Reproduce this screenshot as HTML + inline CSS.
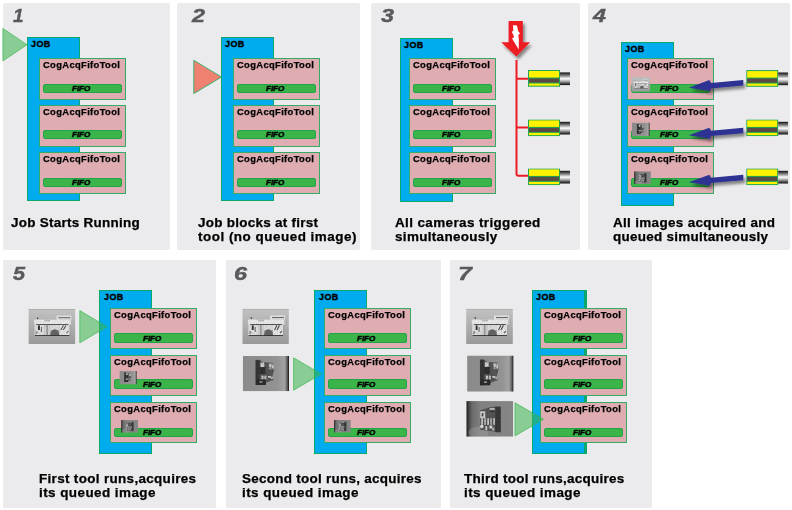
<!DOCTYPE html><html><head><meta charset="utf-8"><style>
*{margin:0;padding:0;box-sizing:border-box}
html,body{width:792px;height:510px;background:#fff;overflow:hidden;position:relative;font-family:"Liberation Sans",sans-serif}
.p{position:absolute;background:#ebebed;border-radius:2px}
.n{position:absolute;font:italic bold 18px/18px "Liberation Sans",sans-serif;color:#59595b;-webkit-text-stroke:0.4px #59595b;transform-origin:0 0;transform:scaleX(1.3)}
.j{position:absolute;background:#00abee;border:1px solid #0ba86c;height:164px}
.j7{border-right:3px solid #0ba86c}
.jl{position:absolute;left:3px;top:2px;font:bold 9px/9px "Liberation Sans",sans-serif;color:#000;-webkit-text-stroke:0.35px #000;letter-spacing:0.4px}
.t{position:absolute;background:#dfadb1;border:1px solid #33ac66;width:87px;height:42px}
.tl{position:absolute;left:3px;top:2px;font:bold 9px/9px "Liberation Sans",sans-serif;color:#000;-webkit-text-stroke:0.25px #000;letter-spacing:0.35px;transform:scaleX(1.04);transform-origin:0 0;white-space:nowrap}
.f{position:absolute;left:3px;top:25px;width:79px;height:9px;background:#3bb54a;border:1px solid #22a548;border-radius:2px}
.fl{position:absolute;left:28px;top:0px;font:italic bold 8px/7px "Liberation Sans",sans-serif;color:#000;-webkit-text-stroke:0.45px #000}
.c{position:absolute;font:bold 12px/14px "Liberation Sans",sans-serif;color:#000;-webkit-text-stroke:0.25px #000;transform:scaleX(1.12);transform-origin:0 0;white-space:nowrap}
svg.ov{position:absolute;left:0;top:0}
</style></head><body>
<div class="p" style="left:3px;top:3px;width:167px;height:247px"></div>
<div class="p" style="left:177px;top:3px;width:183px;height:247px"></div>
<div class="p" style="left:371px;top:3px;width:209px;height:247px"></div>
<div class="p" style="left:588px;top:3px;width:202px;height:247px"></div>
<div class="p" style="left:3px;top:260px;width:213px;height:248px"></div>
<div class="p" style="left:226px;top:260px;width:215px;height:248px"></div>
<div class="p" style="left:450px;top:260px;width:202px;height:248px"></div>
<div class="n" style="left:12.5px;top:7px;transform:scaleX(1.05)">1</div>
<div class="n" style="left:192px;top:7px;transform:scaleX(1.3)">2</div>
<div class="n" style="left:380.5px;top:7px;transform:scaleX(1.3)">3</div>
<div class="n" style="left:593px;top:7px;transform:scaleX(1.3)">4</div>
<div class="n" style="left:12.6px;top:265px;transform:scaleX(1.2)">5</div>
<div class="n" style="left:234px;top:265px;transform:scaleX(1.3)">6</div>
<div class="n" style="left:457.5px;top:265px;transform:scaleX(1.38)">7</div>
<div class="j" style="left:27px;top:37px;width:53px"><div class="jl" style="left:3px">JOB</div></div>
<div class="t" style="left:39px;top:58px;height:42px"><div class="tl">CogAcqFifoTool</div><div class="f" style="top:25px;height:9px"><div class="fl" style="top:0.0px">FIFO</div></div></div>
<div class="t" style="left:39px;top:105px;height:42px"><div class="tl">CogAcqFifoTool</div><div class="f" style="top:24px;height:9px"><div class="fl" style="top:0.0px">FIFO</div></div></div>
<div class="t" style="left:39px;top:152px;height:42px"><div class="tl">CogAcqFifoTool</div><div class="f" style="top:25px;height:9px"><div class="fl" style="top:0.0px">FIFO</div></div></div>
<div class="j" style="left:221px;top:37px;width:53px"><div class="jl" style="left:3px">JOB</div></div>
<div class="t" style="left:233px;top:58px;height:42px"><div class="tl">CogAcqFifoTool</div><div class="f" style="top:25px;height:9px"><div class="fl" style="top:0.0px">FIFO</div></div></div>
<div class="t" style="left:233px;top:105px;height:42px"><div class="tl">CogAcqFifoTool</div><div class="f" style="top:24px;height:9px"><div class="fl" style="top:0.0px">FIFO</div></div></div>
<div class="t" style="left:233px;top:152px;height:42px"><div class="tl">CogAcqFifoTool</div><div class="f" style="top:25px;height:9px"><div class="fl" style="top:0.0px">FIFO</div></div></div>
<div class="j" style="left:400px;top:38px;width:53px"><div class="jl" style="left:3px">JOB</div></div>
<div class="t" style="left:409px;top:58px;height:42px"><div class="tl">CogAcqFifoTool</div><div class="f" style="top:25px;height:9px"><div class="fl" style="top:0.0px">FIFO</div></div></div>
<div class="t" style="left:409px;top:105px;height:42px"><div class="tl">CogAcqFifoTool</div><div class="f" style="top:24px;height:9px"><div class="fl" style="top:0.0px">FIFO</div></div></div>
<div class="t" style="left:409px;top:152px;height:42px"><div class="tl">CogAcqFifoTool</div><div class="f" style="top:25px;height:9px"><div class="fl" style="top:0.0px">FIFO</div></div></div>
<div class="j" style="left:621px;top:42px;width:53px"><div class="jl" style="left:3px">JOB</div></div>
<div class="t" style="left:627px;top:58px;height:42px"><div class="tl">CogAcqFifoTool</div><div class="f" style="top:25px;height:9px"><div class="fl" style="top:0.0px">FIFO</div></div></div>
<div class="t" style="left:627px;top:105px;height:42px"><div class="tl">CogAcqFifoTool</div><div class="f" style="top:24px;height:9px"><div class="fl" style="top:0.0px">FIFO</div></div></div>
<div class="t" style="left:627px;top:152px;height:42px"><div class="tl">CogAcqFifoTool</div><div class="f" style="top:25px;height:9px"><div class="fl" style="top:0.0px">FIFO</div></div></div>
<div class="j" style="left:99px;top:290px;width:53px"><div class="jl" style="left:4px">JOB</div></div>
<div class="t" style="left:110px;top:308px;height:41px"><div class="tl">CogAcqFifoTool</div><div class="f" style="top:24px;height:10px"><div class="fl" style="top:0.5px">FIFO</div></div></div>
<div class="t" style="left:110px;top:355px;height:41px"><div class="tl">CogAcqFifoTool</div><div class="f" style="top:23px;height:10px"><div class="fl" style="top:0.5px">FIFO</div></div></div>
<div class="t" style="left:110px;top:402px;height:41px"><div class="tl">CogAcqFifoTool</div><div class="f" style="top:25px;height:9px"><div class="fl" style="top:0.0px">FIFO</div></div></div>
<div class="j" style="left:314px;top:290px;width:53px"><div class="jl" style="left:4px">JOB</div></div>
<div class="t" style="left:324px;top:308px;height:41px"><div class="tl">CogAcqFifoTool</div><div class="f" style="top:24px;height:10px"><div class="fl" style="top:0.5px">FIFO</div></div></div>
<div class="t" style="left:324px;top:355px;height:41px"><div class="tl">CogAcqFifoTool</div><div class="f" style="top:23px;height:10px"><div class="fl" style="top:0.5px">FIFO</div></div></div>
<div class="t" style="left:324px;top:402px;height:41px"><div class="tl">CogAcqFifoTool</div><div class="f" style="top:25px;height:9px"><div class="fl" style="top:0.0px">FIFO</div></div></div>
<div class="j j7" style="left:532px;top:290px;width:55px"><div class="jl" style="left:3px">JOB</div></div>
<div class="t" style="left:540px;top:308px;height:41px"><div class="tl">CogAcqFifoTool</div><div class="f" style="top:24px;height:10px"><div class="fl" style="top:0.5px">FIFO</div></div></div>
<div class="t" style="left:540px;top:355px;height:41px"><div class="tl">CogAcqFifoTool</div><div class="f" style="top:23px;height:10px"><div class="fl" style="top:0.5px">FIFO</div></div></div>
<div class="t" style="left:540px;top:402px;height:41px"><div class="tl">CogAcqFifoTool</div><div class="f" style="top:25px;height:9px"><div class="fl" style="top:0.0px">FIFO</div></div></div>
<div class="c" style="left:11.0px;top:216px;letter-spacing:0.25px">Job Starts Running</div>
<div class="c" style="left:198.3px;top:216px;letter-spacing:0.25px">Job blocks at first</div>
<div class="c" style="left:198.3px;top:230px;letter-spacing:0.45px">tool (no queued image)</div>
<div class="c" style="left:395.0px;top:216px;letter-spacing:0.35px">All cameras triggered</div>
<div class="c" style="left:395.0px;top:230px;letter-spacing:0.3px">simultaneously</div>
<div class="c" style="left:612.5px;top:216px;letter-spacing:0.3px">All images acquired and</div>
<div class="c" style="left:612.5px;top:230px;letter-spacing:0.25px">queued simultaneously</div>
<div class="c" style="left:38.7px;top:472px;letter-spacing:0.3px">First tool runs,acquires</div>
<div class="c" style="left:38.7px;top:486px;letter-spacing:0.4px">its queued image</div>
<div class="c" style="left:241.9px;top:472px;letter-spacing:0.25px">Second tool runs, acquires</div>
<div class="c" style="left:241.9px;top:486px;letter-spacing:0.4px">its queued image</div>
<div class="c" style="left:464.4px;top:472px;letter-spacing:0.25px">Third tool runs,acquires</div>
<div class="c" style="left:464.4px;top:486px;letter-spacing:0.4px">its queued image</div>
<svg class="ov" width="792" height="510" viewBox="0 0 792 510">
<defs>
<linearGradient id="lens" x1="0" y1="0" x2="0" y2="1">
<stop offset="0" stop-color="#111"/><stop offset="0.12" stop-color="#444"/><stop offset="0.3" stop-color="#999"/>
<stop offset="0.5" stop-color="#fff"/><stop offset="0.7" stop-color="#aaa"/><stop offset="0.88" stop-color="#444"/><stop offset="1" stop-color="#111"/>
</linearGradient>
<linearGradient id="gA" x1="0" y1="0" x2="0" y2="1"><stop offset="0" stop-color="#c2c2c2"/><stop offset="1" stop-color="#999"/></linearGradient>
<linearGradient id="gB" x1="0" y1="0" x2="1" y2="0"><stop offset="0" stop-color="#8a8a8a"/><stop offset="0.75" stop-color="#939393"/><stop offset="0.9" stop-color="#a2a2a2"/><stop offset="0.955" stop-color="#666"/><stop offset="1" stop-color="#111"/></linearGradient>
<linearGradient id="gC" x1="0" y1="0" x2="1" y2="0"><stop offset="0" stop-color="#111"/><stop offset="0.04" stop-color="#3a3a3a"/><stop offset="0.12" stop-color="#6a6a6a"/><stop offset="0.3" stop-color="#808080"/><stop offset="1" stop-color="#868686"/></linearGradient>
<filter id="sh" x="-20%" y="-20%" width="150%" height="160%"><feGaussianBlur in="SourceAlpha" stdDeviation="1.5"/><feOffset dx="2" dy="3" result="b"/><feComponentTransfer><feFuncA type="linear" slope="0.45"/></feComponentTransfer><feMerge><feMergeNode/><feMergeNode in="SourceGraphic"/></feMerge></filter>
<filter id="grain" x="0" y="0" width="100%" height="100%"><feTurbulence type="fractalNoise" baseFrequency="0.9" numOctaves="1" seed="3" result="n"/><feColorMatrix in="n" type="matrix" values="0 0 0 0 0  0 0 0 0 0  0 0 0 0 0  0 0 0 -1.6 1.0" result="m"/><feComposite in="m" in2="SourceGraphic" operator="in"/></filter>
<symbol id="tA" viewBox="0 0 47 35" preserveAspectRatio="none">
<rect width="47" height="35" fill="url(#gA)"/>
<rect x="0" y="0" width="47" height="0.8" fill="#a9a9a9"/>
<rect x="28" y="6.5" width="15" height="4.2" fill="#e8e8e8"/><rect x="30" y="8.3" width="12" height="0.9" fill="#555"/>
<circle cx="9.2" cy="9.2" r="0.8" fill="#333"/>
<rect x="5.7" y="10.7" width="36.7" height="5" fill="#eeeeee"/><rect x="15.7" y="10.4" width="6" height="2" fill="#bbb"/>
<rect x="8" y="15.2" width="32" height="0.9" fill="#3a3a3a"/>
<rect x="6.1" y="16" width="10" height="10.5" fill="#e2e2e2"/>
<rect x="9.6" y="16.4" width="1.9" height="4.6" fill="#333"/><rect x="12.5" y="18" width="1" height="5" fill="#666"/><rect x="7" y="22" width="2" height="3" fill="#999"/>
<rect x="16" y="16" width="6" height="10.5" fill="#d4d4d4"/><rect x="18" y="16" width="1.5" height="10" fill="#999"/>
<rect x="21.8" y="16" width="9.2" height="5" fill="#dedede"/>
<path d="M21.8 26.8 Q22.5 20.3 26.4 20.3 Q30.3 20.3 31 26.8 Z" fill="#666"/>
<rect x="31" y="16" width="10" height="10.5" fill="#e6e6e6"/>
<path d="M32.5 21 L35 16.4 M35 21 L37.5 16.4 M38 24 L40 22" stroke="#444" stroke-width="1" fill="none"/>
<rect x="6.5" y="26" width="34.5" height="0.9" fill="#333"/>
<rect x="5.7" y="10.7" width="36.7" height="16" fill="#000" opacity="0.2" filter="url(#grain)"/><rect x="28" y="6.5" width="15" height="4.2" fill="#000" opacity="0.2" filter="url(#grain)"/>
</symbol>
<symbol id="tB" viewBox="0 0 47 35" preserveAspectRatio="none">
<rect width="47" height="35" fill="url(#gB)"/>
<path d="M13 4 L17 3.8 L20 6 L31 7 L32 13 L30 20 L31 24 L24 26 L23 28.7 L13 28.7 Z" fill="#5a5a5a"/>
<rect x="13" y="4" width="4" height="24.7" fill="#3a3a3a"/>
<rect x="18" y="6.5" width="3.8" height="4.5" fill="#dcdcdc"/>
<rect x="17" y="11" width="6" height="7" fill="#343434"/>
<rect x="26.4" y="7.3" width="5.3" height="6" fill="#9a9a9a"/><rect x="27" y="8" width="1.5" height="3" fill="#eee"/><rect x="30" y="9" width="1.2" height="3" fill="#ddd"/>
<rect x="19" y="19.5" width="2" height="3.8" fill="#ddd"/><rect x="22" y="19.5" width="2" height="3.8" fill="#ccc"/><rect x="25.5" y="20" width="3" height="1.5" fill="#eee"/><rect x="28.5" y="20.5" width="2" height="2.5" fill="#bbb"/>
<rect x="13.4" y="23.3" width="10" height="5.4" fill="#2e2e2e"/><rect x="17" y="25" width="3" height="1.5" fill="#aaa"/>
<clipPath id="cpB"><path d="M13 4 L17 3.8 L20 6 L31 7 L32 13 L30 20 L31 24 L24 26 L23 28.7 L13 28.7 Z"/></clipPath><g clip-path="url(#cpB)"><rect x="13" y="3" width="19" height="26" fill="#fff" opacity="0.4" filter="url(#grain)"/></g>
</symbol>
<symbol id="tC" viewBox="0 0 47 35" preserveAspectRatio="none">
<rect width="47" height="35" fill="url(#gC)"/>
<ellipse cx="12" cy="31" rx="10" ry="6" fill="#a8a8a8" opacity="0.35"/>
<path d="M13.8 9 L24 6 L30 5.4 L34.4 6 L34.4 30.6 L28 30 L20 29 L13.8 28 Z" fill="#5a5a5a"/>
<rect x="29" y="5.4" width="5.4" height="25.2" fill="#3c3c3c"/>
<rect x="23.5" y="7" width="5" height="1.5" fill="#ddd"/><rect x="24" y="9.5" width="4" height="1.2" fill="#333"/>
<rect x="13.8" y="10" width="5.2" height="6.8" fill="#d6d6d6"/><rect x="15.5" y="12" width="1.5" height="3" fill="#444"/>
<rect x="15" y="16.8" width="1.5" height="6.5" fill="#e6e6e6"/><rect x="18" y="16.8" width="1.5" height="6.5" fill="#d0d0d0"/><rect x="21" y="16.8" width="1.5" height="6.5" fill="#e6e6e6"/><rect x="24" y="16.8" width="1.5" height="6.5" fill="#c8c8c8"/><rect x="27" y="16.8" width="1.5" height="6.5" fill="#ddd"/>
<rect x="14" y="23.5" width="3" height="3" fill="#eee"/><rect x="19" y="24.5" width="2" height="4" fill="#ccc"/><rect x="23" y="24" width="3" height="3" fill="#ddd"/><rect x="26" y="26" width="2" height="3" fill="#bbb"/>
<clipPath id="cpC"><path d="M13.8 9 L24 6 L30 5.4 L34.4 6 L34.4 30.6 L28 30 L20 29 L13.8 28 Z"/></clipPath><g clip-path="url(#cpC)"><rect x="13.8" y="5" width="20.6" height="26" fill="#fff" opacity="0.4" filter="url(#grain)"/></g>
</symbol>
<symbol id="cam" viewBox="0 0 42 17" width="42" height="17">
<rect x="0" y="0" width="32" height="16.7" fill="#1ea650"/>
<rect x="1" y="1" width="30" height="6.5" fill="#fff200"/>
<rect x="1" y="8.5" width="30" height="4" fill="#5a4a44"/>
<rect x="1" y="13.5" width="30" height="2.2" fill="#fff200"/>
<rect x="32" y="2.4" width="10" height="12.7" fill="url(#lens)"/>
</symbol>
</defs>
<path d="M2.9 28.4 L27 44.7 L2.9 60.9 Z" fill="#39b54a" fill-opacity="0.55" stroke="#39b54a" stroke-opacity="0.75" stroke-width="0.9"/>
<path d="M193.8 60.3 L221.5 77 L193.8 93.6 Z" fill="#f0806f" stroke="#3cb371" stroke-width="1"/>
<path d="M79.8 310.6 L107 326.8 L79.8 342.8 Z" fill="#39b54a" fill-opacity="0.55" stroke="#39b54a" stroke-opacity="0.75" stroke-width="0.9"/>
<path d="M293.6 357.8 L321.3 374 L293.6 390.2 Z" fill="#39b54a" fill-opacity="0.55" stroke="#39b54a" stroke-opacity="0.75" stroke-width="0.9"/>
<path d="M515 402.8 L543.5 419.3 L515 435.9 Z" fill="#39b54a" fill-opacity="0.55" stroke="#39b54a" stroke-opacity="0.75" stroke-width="0.9"/>
<g filter="url(#sh)"><path d="M508.6 21 H522.8 V42.2 H530 L516.4 56.6 L501.2 42.2 H508.6 Z" fill="#ed1c24"/></g>
<path d="M513.0 25.2 L516.9 25.6 L518.3 31.6 L519.9 32.9 L519.5 34.2 L518.3 34.7 L518.9 39.8 L518.7 49.6 L512.0 38.6 L513.6 37.7 L513.9 36.1 L512.7 33.8 L511.7 31.7 L513.3 30.8 Z" fill="#fff"/>
<path d="M516.5 60 V173.7 Q516.5 175.7 518.5 175.7 H528.5 M516.5 78.7 H528.5 M516.5 127.5 H528.5" fill="none" stroke="#ed1c24" stroke-width="2"/>
<use href="#cam" x="528" y="70" width="42" height="17"/>
<use href="#cam" x="528" y="119.4" width="42" height="17"/>
<use href="#cam" x="528" y="168.4" width="42" height="17"/>
<use href="#cam" x="746.2" y="70.1" width="42" height="17"/>
<use href="#cam" x="746.2" y="119.4" width="42" height="17"/>
<use href="#cam" x="746.2" y="168.4" width="42" height="17"/>
<g filter="url(#sh)" transform="translate(0 0)"><path d="M743.3 80.1 L743.3 85.6 L711 88.4 L710.2 91.1 L688.8 87.7 L709.4 80.1 L711 83.1 Z" fill="#2e3192"/></g>
<g filter="url(#sh)" transform="translate(0 47.6)"><path d="M743.3 80.1 L743.3 85.6 L711 88.4 L710.2 91.1 L688.8 87.7 L709.4 80.1 L711 83.1 Z" fill="#2e3192"/></g>
<g filter="url(#sh)" transform="translate(0 94.6)"><path d="M743.3 80.1 L743.3 85.6 L711 88.4 L710.2 91.1 L688.8 87.7 L709.4 80.1 L711 83.1 Z" fill="#2e3192"/></g>
<use href="#tA" x="28.4" y="309" width="47" height="35"/>
<use href="#tA" x="242.3" y="308.8" width="46.6" height="35.3"/>
<use href="#tB" x="242.8" y="356" width="46.3" height="35.3"/>
<use href="#tA" x="466.1" y="308.8" width="46.8" height="35.3"/>
<use href="#tB" x="467.1" y="355.5" width="46.5" height="36.2"/>
<use href="#tC" x="466.3" y="401.1" width="47" height="35.6"/>
<use href="#tA" x="631.3" y="76.9" width="19" height="14.8"/>
<use href="#tB" x="632" y="122.5" width="17.8" height="13.7"/>
<use href="#tC" x="634.1" y="171.2" width="16.8" height="12.8"/>
<use href="#tB" x="119.4" y="370.9" width="17.4" height="13.5"/>
<use href="#tC" x="121.1" y="420.1" width="16.9" height="12.6"/>
<use href="#tC" x="333.9" y="420" width="16.9" height="12.6"/>
</svg>
</body></html>
